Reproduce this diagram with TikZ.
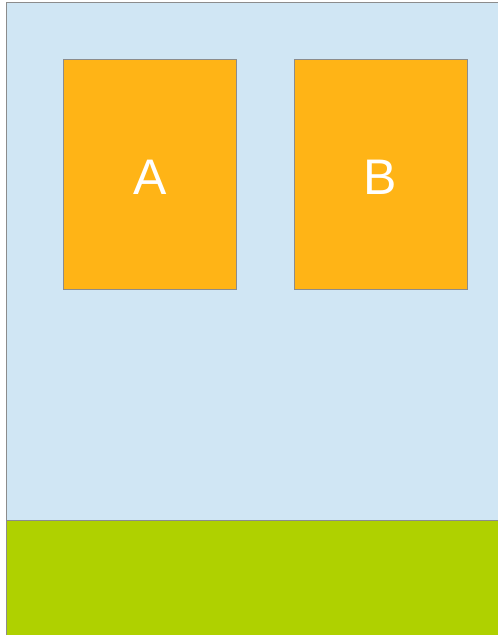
\documentclass[tikz,border=0pt]{standalone}
\usepackage{fontspec}
\setmainfont{Liberation Sans}
\definecolor{skyc}{HTML}{D0E6F4}
\definecolor{orangec}{HTML}{FFB416}
\definecolor{grassc}{HTML}{AFD100}
\definecolor{edgec}{HTML}{8C8C8C}
\begin{document}
\begin{tikzpicture}[x=1pt,y=-1pt,
  panel/.style={draw=edgec,line width=1pt},
  boxstyle/.style={draw=edgec,line width=1pt,fill=orangec,inner sep=0pt,minimum width=173pt,minimum height=230pt},
  letter/.style={text=white,font=\fontsize{50}{50}\selectfont}]
\useasboundingbox (0,0) rectangle (498,635);
\fill[white] (0,0) rectangle (498,635);
\filldraw[panel,fill=skyc] (6,2) rectangle (520,520);
\filldraw[panel,fill=grassc] (6,520) rectangle (520,640);
\node[boxstyle] (A) at (149.75,174.5) {};
\node[boxstyle] (B) at (380.5,174.5) {};
\node[letter] (Al) at ([yshift=-3pt]A.center) {A};
\node[letter] (Bl) at ([yshift=-3pt]B.center) {B};
\end{tikzpicture}
\end{document}
